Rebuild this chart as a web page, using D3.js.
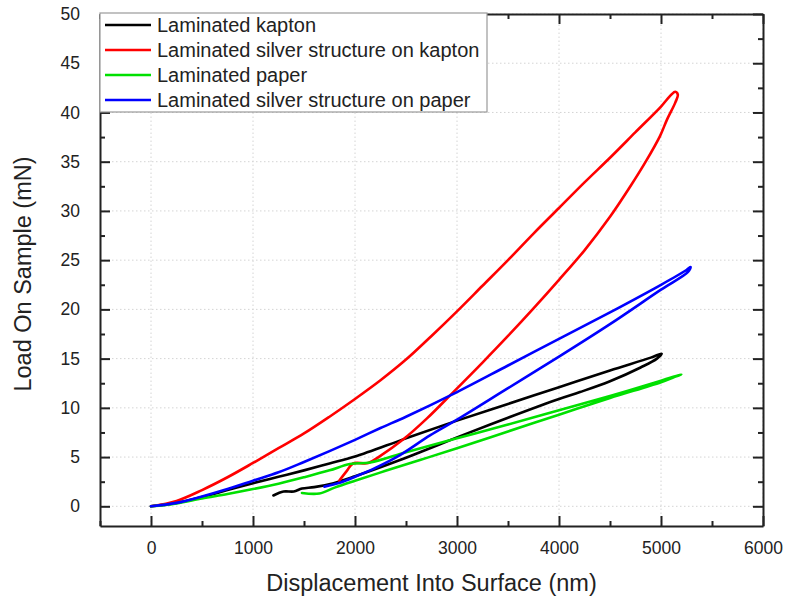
<!DOCTYPE html>
<meta charset="utf-8">
<title>Load vs displacement</title>
<body>
<script src="https://cdn.jsdelivr.net/npm/d3@7"></script>
<style>
html, body {
    margin: 0;
    background: #fff;
}
svg {
    display: block;
    font-family: "Liberation Sans", Arial, sans-serif;
}
.tick text {
    fill: #222;
}
</style>
<script>
var width = 787,
    height = 599,
    margin = {top: 14, right: 24, bottom: 73, left: 100};

// displacement (nm), load (mN) -- loading branch then unloading branch
var kapton = [
    [0, 0], [250, 0.35], [500, 0.95], [750, 1.65], [1000, 2.35], [1250, 3.0],
    [1500, 3.65], [1750, 4.35], [2000, 5.05], [2500, 6.9], [3000, 8.7],
    [3500, 10.4], [4000, 12.1], [4500, 13.8], [4900, 15.1], [5006, 15.5],
    [4960, 15.0], [4800, 14.1], [4500, 12.7], [4206, 11.6], [4000, 10.9],
    [3500, 9.0], [3000, 7.0], [2735, 5.9], [2441, 4.7], [2000, 3.05],
    [1790, 2.35], [1600, 1.95], [1480, 1.8], [1400, 1.5], [1300, 1.5], [1200, 1.1]
];

var silverKapton = [
    [0, 0], [250, 0.55], [500, 1.65], [750, 2.95], [1000, 4.4], [1250, 5.9],
    [1500, 7.4], [1750, 9.1], [2000, 10.9], [2250, 12.8], [2500, 14.9],
    [2750, 17.3], [3000, 19.8], [3250, 22.4], [3500, 25.0], [3750, 27.7],
    [4000, 30.3], [4250, 32.9], [4500, 35.4], [4750, 38.0], [5000, 40.6],
    [5100, 41.8], [5140, 42.1], [5165, 41.8], [5140, 41.0], [5060, 39.3],
    [4990, 37.6], [4850, 35.0], [4700, 32.5], [4500, 29.4], [4250, 26.0],
    [4000, 23.0], [3750, 20.1], [3500, 17.3], [3250, 14.6], [2964, 11.6],
    [2703, 8.9], [2474, 6.8], [2245, 5.1], [2130, 4.4], [1980, 4.35],
    [1920, 3.6], [1845, 2.6]
];

var paper = [
    [0, 0], [250, 0.3], [500, 0.8], [750, 1.25], [1000, 1.75], [1250, 2.3],
    [1500, 2.95], [1750, 3.65], [1950, 4.3], [2150, 4.45], [2500, 5.5],
    [3000, 6.9], [3500, 8.3], [4000, 9.75], [4500, 11.2], [5000, 12.75],
    [5200, 13.4], [5150, 13.2], [5000, 12.6], [4500, 11.0], [4000, 9.3],
    [3500, 7.6], [3000, 5.9], [2637, 4.7], [2300, 3.6], [2000, 2.6],
    [1800, 1.9], [1650, 1.3], [1480, 1.35]
];

var silverPaper = [
    [0, 0], [250, 0.35], [500, 1.0], [750, 1.75], [1000, 2.6], [1250, 3.45],
    [1500, 4.5], [1750, 5.6], [2000, 6.75], [2250, 7.95], [2500, 9.1],
    [3000, 11.6], [3500, 14.3], [4000, 17.0], [4500, 19.7], [5000, 22.5],
    [5250, 24.0], [5290, 24.3], [5265, 23.8], [5000, 22.0], [4500, 18.5],
    [4000, 15.2], [3500, 12.0], [3000, 8.8], [2735, 7.2], [2441, 5.2],
    [2200, 3.9], [2000, 3.0], [1850, 2.4], [1700, 2.0]
];

var seriesNames = [
    "Laminated kapton",
    "Laminated silver structure on kapton",
    "Laminated paper",
    "Laminated silver structure on paper"
];
var seriesColors = ["#000000", "#ff0000", "#00e000", "#0000ff"];
var seriesData = [kapton, silverKapton, paper, silverPaper];

var xTicks = [0, 1000, 2000, 3000, 4000, 5000, 6000],
    yTicks = [0, 5, 10, 15, 20, 25, 30, 35, 40, 45, 50];

var x = d3.scaleLinear().domain([-500, 6000]).range([margin.left, width - margin.right]);
var y = d3.scaleLinear().domain([-2, 50]).range([height - margin.bottom, margin.top]);

var svg = d3.select("body").append("svg")
    .attr("width", width)
    .attr("height", height);

var x0 = x.range()[0], x1 = x.range()[1],
    y0 = y.range()[0], y1 = y.range()[1];

// dotted grid
svg.append("g").selectAll("line")
    .data(xTicks)
    .enter().append("line")
    .attr("x1", function(d) { return x(d); })
    .attr("x2", function(d) { return x(d); })
    .attr("y1", y0).attr("y2", y1)
    .attr("stroke", "#d4d4d4")
    .attr("stroke-dasharray", "1.5,2.5");

svg.append("g").selectAll("line")
    .data(yTicks)
    .enter().append("line")
    .attr("y1", function(d) { return y(d); })
    .attr("y2", function(d) { return y(d); })
    .attr("x1", x0).attr("x2", x1)
    .attr("stroke", "#d4d4d4")
    .attr("stroke-dasharray", "1.5,2.5");

var xMinor = d3.range(-500, 6001, 500).filter(function(d) { return d % 1000 !== 0; }),
    yMinor = d3.range(-2.5, 50, 5).filter(function(d) { return d > -2; });

function styleAxis(g) {
    g.select(".domain").attr("stroke", "#222").attr("stroke-width", 2);
    g.selectAll(".tick line").attr("stroke", "#222").attr("stroke-width", 2);
}

var fmt = d3.format("d");

// bottom
svg.append("g")
    .attr("transform", "translate(0," + y0 + ")")
    .call(d3.axisBottom(x).tickValues(xTicks).tickFormat(fmt).tickSizeInner(-10).tickSizeOuter(0).tickPadding(16))
    .call(styleAxis)
    .selectAll("text").attr("font-size", 17.5);
svg.append("g")
    .attr("transform", "translate(0," + y0 + ")")
    .call(d3.axisBottom(x).tickValues(xMinor).tickSize(-5).tickFormat(""))
    .call(styleAxis)
    .select(".domain").remove();

// top
svg.append("g")
    .attr("transform", "translate(0," + y1 + ")")
    .call(d3.axisTop(x).tickValues(xTicks).tickSizeInner(-10).tickSizeOuter(0).tickFormat(""))
    .call(styleAxis);
svg.append("g")
    .attr("transform", "translate(0," + y1 + ")")
    .call(d3.axisTop(x).tickValues(xMinor).tickSize(-5).tickFormat(""))
    .call(styleAxis)
    .select(".domain").remove();

// left
svg.append("g")
    .attr("transform", "translate(" + x0 + ",0)")
    .call(d3.axisLeft(y).tickValues(yTicks).tickFormat(fmt).tickSizeInner(-10).tickSizeOuter(0).tickPadding(20))
    .call(styleAxis)
    .selectAll("text").attr("font-size", 17.5);
svg.append("g")
    .attr("transform", "translate(" + x0 + ",0)")
    .call(d3.axisLeft(y).tickValues(yMinor).tickSize(-5).tickFormat(""))
    .call(styleAxis)
    .select(".domain").remove();

// right
svg.append("g")
    .attr("transform", "translate(" + x1 + ",0)")
    .call(d3.axisRight(y).tickValues(yTicks).tickSizeInner(-10).tickSizeOuter(0).tickFormat(""))
    .call(styleAxis);
svg.append("g")
    .attr("transform", "translate(" + x1 + ",0)")
    .call(d3.axisRight(y).tickValues(yMinor).tickSize(-5).tickFormat(""))
    .call(styleAxis)
    .select(".domain").remove();

// curves
var line = d3.line()
    .x(function(d) { return x(d[0]); })
    .y(function(d) { return y(d[1]); })
    .curve(d3.curveCatmullRom.alpha(0.5));

svg.append("g").selectAll("path")
    .data(seriesData)
    .enter().append("path")
    .attr("d", line)
    .attr("fill", "none")
    .attr("stroke", function(d, i) { return seriesColors[i]; })
    .attr("stroke-width", 2.6)
    .attr("stroke-linejoin", "round")
    .attr("stroke-linecap", "round");

// axis titles
svg.append("text")
    .attr("x", (x0 + x1) / 2)
    .attr("y", 591)
    .attr("text-anchor", "middle")
    .attr("font-size", 23.5)
    .attr("fill", "#222")
    .text("Displacement Into Surface (nm)");

svg.append("text")
    .attr("transform", "translate(31," + ((y0 + y1) / 2 + 4) + ") rotate(-90)")
    .attr("text-anchor", "middle")
    .attr("font-size", 23.5)
    .attr("fill", "#222")
    .text("Load On Sample (mN)");

// legend
var legend = svg.append("g");
legend.append("rect")
    .attr("x", x0).attr("y", 13)
    .attr("width", 387).attr("height", 99)
    .attr("fill", "#fff")
    .attr("stroke", "#9a9a9a")
    .attr("stroke-width", 1.2);

var rows = legend.selectAll("g")
    .data(seriesNames)
    .enter().append("g")
    .attr("transform", function(d, i) { return "translate(" + x0 + "," + (25 + i * 25) + ")"; });

rows.append("line")
    .attr("x1", 5).attr("x2", 51)
    .attr("stroke", function(d, i) { return seriesColors[i]; })
    .attr("stroke-width", 2.6);

rows.append("text")
    .attr("x", 57)
    .attr("y", 7)
    .attr("font-size", 20)
    .attr("fill", "#222")
    .text(function(d) { return d; });
</script>
